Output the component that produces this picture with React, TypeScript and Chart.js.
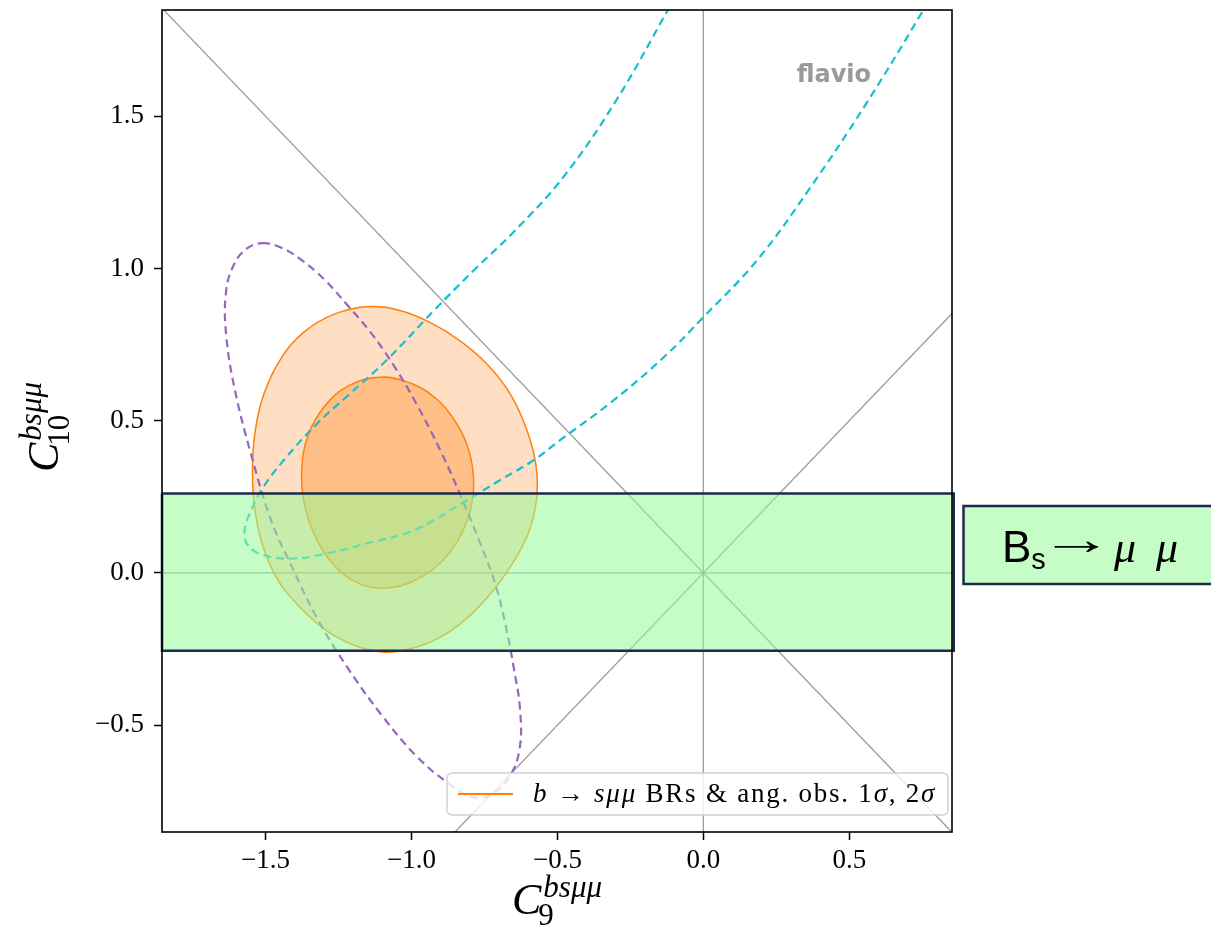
import React, { useEffect, useRef } from "react";
import { Chart, registerables } from "chart.js";

Chart.register(...registerables);

// ---- axes ----
const X_MIN = -1.855;
const X_MAX = 0.852;
const Y_MIN = -0.851;
const Y_MAX = 1.849;
const X_TICKS = [-1.5, -1.0, -0.5, 0.0, 0.5];
const Y_TICKS = [-0.5, 0.0, 0.5, 1.0, 1.5];

// ---- b -> s mu mu contours (C9, C10) ----
const SIGMA2_CONTOUR: [number, number][] = [
  [-1.147, 0.875], [-1.04, 0.862], [-0.935, 0.822], [-0.83, 0.76], [-0.735, 0.68],
  [-0.66, 0.585], [-0.605, 0.47], [-0.573, 0.35], [-0.572, 0.24], [-0.6, 0.13],
  [-0.655, 0.03], [-0.735, -0.075], [-0.83, -0.165], [-0.93, -0.225], [-1.03, -0.255],
  [-1.1, -0.26], [-1.19, -0.24], [-1.29, -0.19], [-1.385, -0.11], [-1.46, -0.02],
  [-1.51, 0.09], [-1.537, 0.21], [-1.545, 0.34], [-1.535, 0.47], [-1.505, 0.59],
  [-1.45, 0.7], [-1.37, 0.79], [-1.265, 0.85],
];
const SIGMA1_CONTOUR: [number, number][] = [
  [-1.11, 0.643], [-1.0, 0.622], [-0.91, 0.568], [-0.845, 0.49], [-0.803, 0.4],
  [-0.787, 0.3], [-0.8, 0.2], [-0.845, 0.1], [-0.91, 0.025], [-1.0, -0.03],
  [-1.09, -0.05], [-1.18, -0.035], [-1.265, 0.025], [-1.33, 0.12], [-1.368, 0.23],
  [-1.376, 0.34], [-1.355, 0.45], [-1.3, 0.545], [-1.215, 0.615],
];
// purple dashed contour
const PURPLE_CONTOUR: [number, number][] = [
  [-1.512, 1.083], [-1.45, 1.07], [-1.38, 1.03], [-1.3, 0.965], [-1.22, 0.88],
  [-1.14, 0.79], [-1.06, 0.68], [-0.98, 0.55], [-0.9, 0.4], [-0.83, 0.25],
  [-0.77, 0.11], [-0.715, -0.03], [-0.678, -0.17], [-0.65, -0.31], [-0.628, -0.45],
  [-0.63, -0.58], [-0.665, -0.67], [-0.725, -0.727], [-0.79, -0.737], [-0.875, -0.69],
  [-0.98, -0.605], [-1.1, -0.47], [-1.22, -0.31], [-1.32, -0.155], [-1.405, 0.01],
  [-1.48, 0.17], [-1.55, 0.39], [-1.605, 0.6], [-1.635, 0.78], [-1.636, 0.92],
  [-1.61, 1.01], [-1.565, 1.065],
];
// cyan dashed contour (open at top)
const CYAN_CONTOUR: [number, number][] = [
  [-0.115, 1.86], [-0.3, 1.55], [-0.48, 1.3], [-0.65, 1.12], [-0.78, 1.0],
  [-0.925, 0.86], [-1.084, 0.7], [-1.221, 0.58], [-1.324, 0.49], [-1.438, 0.37],
  [-1.507, 0.283], [-1.545, 0.215], [-1.572, 0.14], [-1.56, 0.09], [-1.505, 0.058],
  [-1.404, 0.047], [-1.29, 0.064], [-1.153, 0.097], [-0.993, 0.14], [-0.81, 0.239],
  [-0.696, 0.305], [-0.582, 0.37], [-0.491, 0.436], [-0.31, 0.565], [-0.134, 0.71],
  [0.001, 0.841], [0.184, 1.027], [0.368, 1.268], [0.551, 1.531], [0.747, 1.838],
  [0.755, 1.86],
];

// ---- B_s -> mu mu band ----
const BAND_Y: [number, number] = [-0.256, 0.261];
const BAND_X_END = 0.858;

// ---- reference lines through the origin (slopes) ----
const REF_SLOPES = [-1, 1];

const LEGEND_SEGMENTS: [string, boolean][] = [
  ["b", true], [" \u2192 ", false], ["s\u03bc\u03bc", true], [" BRs & ang. obs. 1", false],
  ["\u03c3", true], [", 2", false], ["\u03c3", true],
];
const BAND_LABEL = { main: "B", sub: "s", arrow: "\u2192", particle: "\u03bc" };
const X_TITLE = { base: "C", sub: "9", sup: "bs\u03bc\u03bc" };
const Y_TITLE = { base: "C", sub: "10", sup: "bs\u03bc\u03bc" };
const WATERMARK = "flavio";

const ORANGE = "#ff7f0e";
const SERIF = '"Liberation Serif", "DejaVu Serif", serif';
const SANS = '"Liberation Sans", "DejaVu Sans", sans-serif';

const openPts = (arr: [number, number][]) => arr.map(([x, y]) => ({ x, y }));
// closed curve: wrap neighbours so the spline is smooth at the seam
const closedPts = (arr: [number, number][]) => {
  const n = arr.length;
  const seq = [arr[n - 1], ...arr, arr[0], arr[1]];
  return seq.map(([x, y]) => ({ x, y }));
};
const seamHide = (n: number) => ({
  borderColor: (c: any) => (c.p0DataIndex === 0 || c.p1DataIndex === n + 2 ? "rgba(0,0,0,0)" : undefined),
});

const fmt = (v: number) => v.toFixed(1).replace("-", "\u2212");

function drawMathTitle(ctx: CanvasRenderingContext2D, t: { base: string; sub: string; sup: string }, baseSize: number, scriptSize: number) {
  ctx.font = `italic ${baseSize}px ${SERIF}`;
  const wC = ctx.measureText(t.base).width;
  ctx.font = `italic ${scriptSize}px ${SERIF}`;
  const wSup = ctx.measureText(t.sup).width;
  ctx.font = `${scriptSize}px ${SERIF}`;
  const wSub = ctx.measureText(t.sub).width;
  const total = wC + 2 + Math.max(wSup, wSub - 3);
  const x0 = -total / 2;
  ctx.textBaseline = "alphabetic";
  ctx.textAlign = "left";
  ctx.fillStyle = "#000";
  ctx.font = `italic ${baseSize}px ${SERIF}`;
  ctx.fillText(t.base, x0, 0);
  ctx.font = `italic ${scriptSize}px ${SERIF}`;
  ctx.fillText(t.sup, x0 + wC + 2, -17);
  ctx.font = `${scriptSize}px ${SERIF}`;
  ctx.fillText(t.sub, x0 + wC - 3, 11);
}

const decor = {
  id: "decor",
  afterDatasetsDraw(chart: any) {
    const { ctx, chartArea: a } = chart;
    ctx.save();
    // frame
    ctx.strokeStyle = "#000";
    ctx.lineWidth = 1.6;
    ctx.strokeRect(a.left, a.top, a.right - a.left, a.bottom - a.top);
    // watermark
    ctx.font = `bold 24px "DejaVu Sans", sans-serif`;
    ctx.fillStyle = "#9a9a9a";
    ctx.textAlign = "right";
    ctx.textBaseline = "alphabetic";
    ctx.fillText(WATERMARK, a.right - 81, a.top + 72);

    // legend
    const fs = 27;
    const targetW = 403;
    let tw = 0;
    let nChars = 0;
    for (const [s, it] of LEGEND_SEGMENTS) {
      ctx.font = `${it ? "italic " : ""}${fs}px ${SERIF}`;
      tw += ctx.measureText(s).width;
      nChars += [...s].length;
    }
    const spacing = Math.max(0, (targetW - tw) / nChars);
    const textW = tw + spacing * nChars;
    const boxR = a.right - 4;
    const boxB = a.bottom - 17;
    const boxH = 42;
    const boxW = 11 + 55 + 20 + textW + 12;
    const boxL = boxR - boxW;
    const boxT = boxB - boxH;
    ctx.beginPath();
    ctx.roundRect(boxL, boxT, boxW, boxH, 5);
    ctx.fillStyle = "rgba(255,255,255,0.8)";
    ctx.fill();
    ctx.strokeStyle = "rgba(204,204,204,0.9)";
    ctx.lineWidth = 1.5;
    ctx.stroke();
    const cy = boxT + boxH / 2;
    ctx.strokeStyle = ORANGE;
    ctx.lineWidth = 2;
    ctx.beginPath();
    ctx.moveTo(boxL + 11, cy);
    ctx.lineTo(boxL + 66, cy);
    ctx.stroke();
    let tx = boxL + 86;
    ctx.fillStyle = "#000";
    ctx.textAlign = "left";
    ctx.textBaseline = "middle";
    (ctx as any).letterSpacing = `${spacing.toFixed(2)}px`;
    for (const [s, it] of LEGEND_SEGMENTS) {
      ctx.font = `${it ? "italic " : ""}${fs}px ${SERIF}`;
      ctx.fillText(s, tx, cy + 1);
      tx += ctx.measureText(s).width;
    }
    (ctx as any).letterSpacing = "0px";
    ctx.restore();
  },
  afterDraw(chart: any) {
    const { ctx, chartArea: a } = chart;
    ctx.save();
    // x title
    ctx.save();
    ctx.translate((a.left + a.right) / 2, 914);
    drawMathTitle(ctx, X_TITLE, 44, 31);
    ctx.restore();
    // y title
    ctx.save();
    ctx.translate(58, (a.top + a.bottom) / 2 + 6);
    ctx.rotate(-Math.PI / 2);
    drawMathTitle(ctx, Y_TITLE, 44, 31);
    ctx.restore();

    // band label box
    const lx = 963.5, ly = 506, lw = 270, lh = 78;
    ctx.fillStyle = "rgba(152,251,152,0.55)";
    ctx.fillRect(lx, ly, lw, lh);
    ctx.strokeStyle = "#1c2b4b";
    ctx.lineWidth = 2.5;
    ctx.strokeRect(lx, ly, lw, lh);
    ctx.fillStyle = "#000";
    ctx.textAlign = "left";
    ctx.textBaseline = "alphabetic";
    const base = 562;
    ctx.font = `44px ${SANS}`;
    ctx.fillText(BAND_LABEL.main, 1002, base);
    const wB = ctx.measureText(BAND_LABEL.main).width;
    ctx.font = `29px ${SANS}`;
    ctx.fillText(BAND_LABEL.sub, 1002 + wB, base + 7);
    // long arrow: stretch the arrow glyph so its ink spans ~1053..1100, centred at y≈547
    ctx.font = `44px ${SANS}`;
    const m = ctx.measureText(BAND_LABEL.arrow);
    const inkL = m.actualBoundingBoxLeft || 0;
    const inkW = (m.actualBoundingBoxRight || m.width) + inkL;
    const sx = 47 / (inkW || 1);
    const asc = m.actualBoundingBoxAscent || 20;
    const desc = m.actualBoundingBoxDescent || 0;
    ctx.save();
    ctx.translate(1053 + inkL * sx, 547 + (asc - desc) / 2);
    ctx.scale(sx, 1);
    ctx.fillText(BAND_LABEL.arrow, 0, 0);
    ctx.restore();
    ctx.font = `italic 44px ${SERIF}`;
    ctx.fillText(BAND_LABEL.particle, 1114, base);
    ctx.fillText(BAND_LABEL.particle, 1156, base);
    ctx.restore();
  },
};

export default function App() {
  const ref = useRef<HTMLCanvasElement | null>(null);
  useEffect(() => {
    if (!ref.current) return;
    const grey = "rgba(140,140,140,0.85)";
    const refLines = REF_SLOPES.map((m) => [
      { x: X_MIN, y: m * X_MIN },
      { x: X_MAX, y: m * X_MAX },
    ]);
    const line = (data: any[], extra: any) => ({
      data,
      showLine: true,
      pointRadius: 0,
      pointHoverRadius: 0,
      fill: false,
      ...extra,
    });
    const chart = new Chart(ref.current, {
      type: "scatter",
      data: {
        datasets: [
          line(closedPts(SIGMA2_CONTOUR), {
            order: 6, borderColor: ORANGE, borderWidth: 1.5, tension: 0.4,
            fill: "shape", backgroundColor: "rgba(255,127,14,0.25)",
            segment: seamHide(SIGMA2_CONTOUR.length),
          }),
          line(closedPts(SIGMA1_CONTOUR), {
            order: 5, borderColor: ORANGE, borderWidth: 1.5, tension: 0.4,
            fill: "shape", backgroundColor: "rgba(255,127,14,0.33)",
            segment: seamHide(SIGMA1_CONTOUR.length),
          }),
          line(refLines[0], { order: 7, borderColor: grey, borderWidth: 1.3 }),
          line(refLines[1], { order: 7, borderColor: grey, borderWidth: 1.3 }),
          line([{ x: 0, y: Y_MIN }, { x: 0, y: Y_MAX }], { order: 7, borderColor: grey, borderWidth: 1.3 }),
          line([{ x: X_MIN, y: 0 }, { x: X_MAX, y: 0 }], { order: 7, borderColor: grey, borderWidth: 1.3 }),
          line(closedPts(PURPLE_CONTOUR), {
            order: 3, borderColor: "#9467bd", borderWidth: 2.2, borderDash: [8, 5], tension: 0.4,
            segment: seamHide(PURPLE_CONTOUR.length),
          }),
          line(openPts(CYAN_CONTOUR), {
            order: 2, borderColor: "#17becf", borderWidth: 2.2, borderDash: [8, 5], tension: 0.4,
          }),
          line(
            [
              { x: X_MIN, y: BAND_Y[1] }, { x: BAND_X_END, y: BAND_Y[1] },
              { x: BAND_X_END, y: BAND_Y[0] }, { x: X_MIN, y: BAND_Y[0] },
              { x: X_MIN, y: BAND_Y[1] },
            ],
            {
              order: 0, borderColor: "#1c2b4b", borderWidth: 2.5, tension: 0,
              fill: "shape", backgroundColor: "rgba(152,251,152,0.55)", clip: false,
            }
          ),
        ],
      },
      options: {
        responsive: false,
        animation: false,
        devicePixelRatio: 1,
        layout: { padding: { top: 10, right: 259, left: 0, bottom: 0 } },
        plugins: { legend: { display: false }, tooltip: { enabled: false } },
        events: [],
        scales: {
          x: {
            type: "linear",
            min: X_MIN,
            max: X_MAX,
            afterBuildTicks: (s: any) => { s.ticks = X_TICKS.map((v) => ({ value: v })); },
            afterFit: (s: any) => { s.height = 97; s.paddingLeft = 0; s.paddingRight = 0; },
            ticks: {
              autoSkip: false, maxRotation: 0, color: "#000", padding: 5,
              font: { family: SERIF, size: 27 },
              callback: (v: any) => fmt(Number(v)),
            },
            grid: { display: true, drawOnChartArea: false, drawTicks: true, tickLength: 8, tickColor: "#000", tickWidth: 1.5 },
            border: { display: false },
          },
          y: {
            type: "linear",
            min: Y_MIN,
            max: Y_MAX,
            afterBuildTicks: (s: any) => { s.ticks = Y_TICKS.map((v) => ({ value: v })); },
            afterFit: (s: any) => { s.width = 162; s.paddingTop = 0; s.paddingBottom = 0; },
            ticks: {
              autoSkip: false, color: "#000", padding: 10,
              font: { family: SERIF, size: 27 },
              callback: (v: any) => fmt(Number(v)),
            },
            grid: { display: true, drawOnChartArea: false, drawTicks: true, tickLength: 8, tickColor: "#000", tickWidth: 1.5 },
            border: { display: false },
          },
        },
      } as any,
      plugins: [decor],
    });
    return () => chart.destroy();
  }, []);
  return (
    <div style={{ position: "absolute", left: 0, top: 0, width: 1211, height: 929, background: "#fff" }}>
      <canvas ref={ref} width={1211} height={929} style={{ display: "block" }} />
    </div>
  );
}
